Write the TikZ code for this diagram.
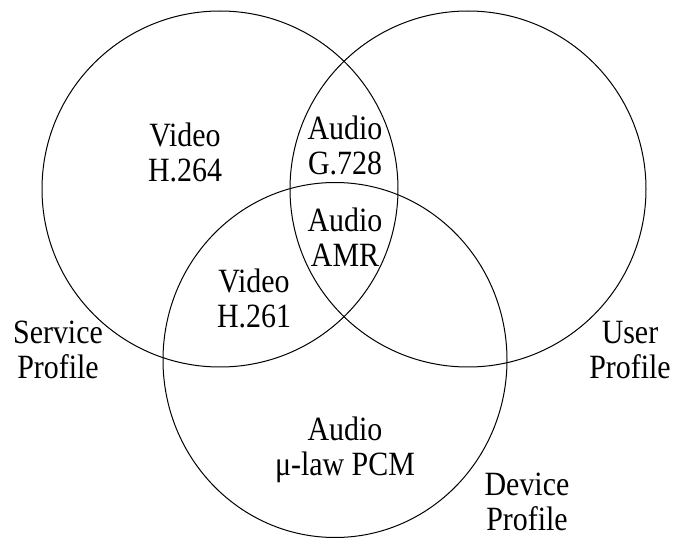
\documentclass[tikz,border=0pt]{standalone}
\usepackage{fontspec}
\setmainfont[FakeStretch=0.88]{Liberation Serif}
\usetikzlibrary{positioning, shapes.geometric}

\begin{document}
\begin{tikzpicture}[x=1pt,y=-1pt,
  ring/.style={circle,draw,line width=1pt,inner sep=0pt},
  lbl/.style={align=center,font=\fontsize{34}{35}\selectfont,inner sep=0pt}
]
  \useasboundingbox (0,0) rectangle (673,540);
  % the three profiles
  \node[ring,minimum size=356pt](svc) at (220,189) {};
  \node[ring,minimum size=356pt](usr) at (468,189) {};
  \node[ring,ellipse,minimum width=344pt,minimum height=355pt](dev) at (335,360) {};

  % codecs
  \node[lbl](v264) at (185,152) {Video\\H.264};
  \node[lbl](g728) at (345,145) {Audio\\G.728};
  \node[lbl](amr) at (345,237) {Audio\\AMR};
  \node[lbl](v261) at (254,298) {Video\\H.261};
  \node[lbl](pcm) at (345,450) {Audio\\μ-law PCM};

  % profile names
  \node[lbl](svcname) at (58,350) {Service\\Profile};
  \node[lbl](usrname) at (630,350) {User\\Profile};
  \node[lbl](devname) at (527,502) {Device\\Profile};
\end{tikzpicture}
\end{document}
